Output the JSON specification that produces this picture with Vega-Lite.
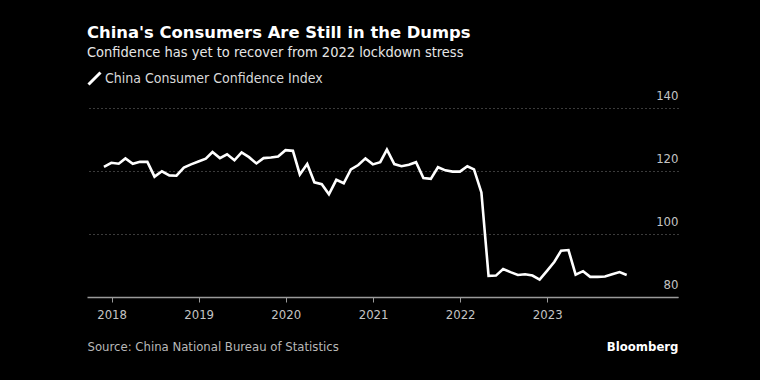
{
  "$schema": "https://vega.github.io/schema/vega-lite/v6.json",
  "autosize": "none",
  "width": 591,
  "height": 189,
  "padding": {"left": 87, "top": 108, "right": 82, "bottom": 83},
  "background": "#000000",
  "title": {
    "text": "China's Consumers Are Still in the Dumps",
    "subtitle": "Confidence has yet to recover from 2022 lockdown stress",
    "anchor": "start",
    "frame": "group",
    "offset": 12,
    "font": "DejaVu Sans",
    "fontSize": 16.4,
    "fontWeight": "bold",
    "color": "#ffffff",
    "subtitleFont": "DejaVu Sans Condensed",
    "subtitleFontSize": 14.5,
    "subtitleColor": "#e6e6e6",
    "subtitlePadding": 4
  },
  "data": {
    "values": [
      {"date": "2017-11-30", "value": 121.3},
      {"date": "2017-12-31", "value": 122.6},
      {"date": "2018-01-31", "value": 122.3},
      {"date": "2018-02-28", "value": 124.0},
      {"date": "2018-03-31", "value": 122.3},
      {"date": "2018-04-30", "value": 122.9},
      {"date": "2018-05-31", "value": 122.9},
      {"date": "2018-06-30", "value": 118.2},
      {"date": "2018-07-31", "value": 119.9},
      {"date": "2018-08-31", "value": 118.6},
      {"date": "2018-09-30", "value": 118.5},
      {"date": "2018-10-31", "value": 121.1},
      {"date": "2018-11-30", "value": 122.1},
      {"date": "2018-12-31", "value": 123.0},
      {"date": "2019-01-31", "value": 123.9},
      {"date": "2019-02-28", "value": 126.0},
      {"date": "2019-03-31", "value": 124.1},
      {"date": "2019-04-30", "value": 125.3},
      {"date": "2019-05-31", "value": 123.4},
      {"date": "2019-06-30", "value": 125.9},
      {"date": "2019-07-31", "value": 124.4},
      {"date": "2019-08-31", "value": 122.4},
      {"date": "2019-09-30", "value": 124.1},
      {"date": "2019-10-31", "value": 124.3},
      {"date": "2019-11-30", "value": 124.6},
      {"date": "2019-12-31", "value": 126.6},
      {"date": "2020-01-31", "value": 126.4},
      {"date": "2020-02-29", "value": 118.9},
      {"date": "2020-03-31", "value": 122.2},
      {"date": "2020-04-30", "value": 116.4},
      {"date": "2020-05-31", "value": 115.8},
      {"date": "2020-06-30", "value": 112.6},
      {"date": "2020-07-31", "value": 117.2},
      {"date": "2020-08-31", "value": 116.1},
      {"date": "2020-09-30", "value": 120.5},
      {"date": "2020-10-31", "value": 121.9},
      {"date": "2020-11-30", "value": 124.0},
      {"date": "2020-12-31", "value": 122.1},
      {"date": "2021-01-31", "value": 122.8},
      {"date": "2021-02-28", "value": 126.8},
      {"date": "2021-03-31", "value": 122.2},
      {"date": "2021-04-30", "value": 121.5},
      {"date": "2021-05-31", "value": 122.0},
      {"date": "2021-06-30", "value": 122.8},
      {"date": "2021-07-31", "value": 117.8},
      {"date": "2021-08-31", "value": 117.5},
      {"date": "2021-09-30", "value": 121.2},
      {"date": "2021-10-31", "value": 120.2},
      {"date": "2021-11-30", "value": 119.8},
      {"date": "2021-12-31", "value": 119.8},
      {"date": "2022-01-31", "value": 121.5},
      {"date": "2022-02-28", "value": 120.5},
      {"date": "2022-03-31", "value": 113.2},
      {"date": "2022-04-30", "value": 86.7},
      {"date": "2022-05-31", "value": 86.8},
      {"date": "2022-06-30", "value": 88.9},
      {"date": "2022-07-31", "value": 87.9},
      {"date": "2022-08-31", "value": 87.0},
      {"date": "2022-09-30", "value": 87.2},
      {"date": "2022-10-31", "value": 86.8},
      {"date": "2022-11-30", "value": 85.5},
      {"date": "2022-12-31", "value": 88.3},
      {"date": "2023-01-31", "value": 91.2},
      {"date": "2023-02-28", "value": 94.7},
      {"date": "2023-03-31", "value": 94.9},
      {"date": "2023-04-30", "value": 87.1},
      {"date": "2023-05-31", "value": 88.2},
      {"date": "2023-06-30", "value": 86.4},
      {"date": "2023-07-31", "value": 86.4},
      {"date": "2023-08-31", "value": 86.5},
      {"date": "2023-09-30", "value": 87.2},
      {"date": "2023-10-31", "value": 87.9},
      {"date": "2023-11-30", "value": 87.0}
    ]
  },
  "mark": {"type": "line", "strokeWidth": 2.6, "strokeJoin": "miter", "clip": false},
  "encoding": {
    "x": {
      "field": "date",
      "type": "temporal",
      "scale": {"domain": ["2017-09-20", "2024-07-02"]},
      "axis": {
        "title": "Source: China National Bureau of Statistics",
        "titleFont": "DejaVu Sans Condensed",
        "titleFontSize": 13,
        "titleFontWeight": "normal",
        "titleColor": "#b8b8b8",
        "titleAnchor": "start",
        "titleAlign": "left",
        "titleBaseline": "alphabetic",
        "titleX": 0,
        "titleY": 53,
        "values": ["2018-01-01", "2019-01-01", "2020-01-01", "2021-01-01", "2022-01-01", "2023-01-01"],
        "format": "%Y",
        "labelFont": "DejaVu Sans Condensed",
        "labelFontSize": 13,
        "labelColor": "#c4c4c4",
        "labelPadding": 6,
        "labelFlush": false,
        "domainColor": "#9a9a9a",
        "domainWidth": 1.5,
        "tickColor": "#9a9a9a",
        "tickSize": 5,
        "grid": false
      }
    },
    "y": {
      "field": "value",
      "type": "quantitative",
      "scale": {"domain": [80, 140], "nice": false, "zero": false},
      "axis": {
        "orient": "right",
        "values": [80, 100, 120, 140],
        "title": "Bloomberg",
        "titleFont": "DejaVu Sans Condensed",
        "titleFontSize": 13,
        "titleFontWeight": "bold",
        "titleColor": "#ffffff",
        "titleAngle": 0,
        "titleAlign": "right",
        "titleBaseline": "alphabetic",
        "titleX": 0,
        "titleY": 242,
        "grid": true,
        "gridColor": "#777777",
        "gridDash": [1, 3],
        "gridWidth": 1,
        "domain": false,
        "ticks": false,
        "tickSize": 0,
        "labelPadding": 0,
        "labelAlign": "right",
        "labelBaseline": "alphabetic",
        "labelOffset": -8.5,
        "labelFont": "DejaVu Sans Condensed",
        "labelFontSize": 13,
        "labelColor": "#c4c4c4"
      }
    },
    "color": {
      "datum": "China Consumer Confidence Index",
      "type": "nominal",
      "scale": {"range": ["#ffffff"]},
      "legend": {
        "orient": "none",
        "legendX": 0,
        "legendY": -37,
        "title": null,
        "padding": 0,
        "symbolType": "M-1,1L1,-1",
        "symbolSize": 144,
        "symbolStrokeWidth": 3,
        "symbolStrokeColor": "#ffffff",
        "labelFont": "DejaVu Sans Condensed",
        "labelFontSize": 14,
        "labelColor": "#d9d9d9",
        "labelOffset": 3,
        "labelLimit": 500
      }
    }
  },
  "config": {
    "view": {"stroke": null}
  }
}
